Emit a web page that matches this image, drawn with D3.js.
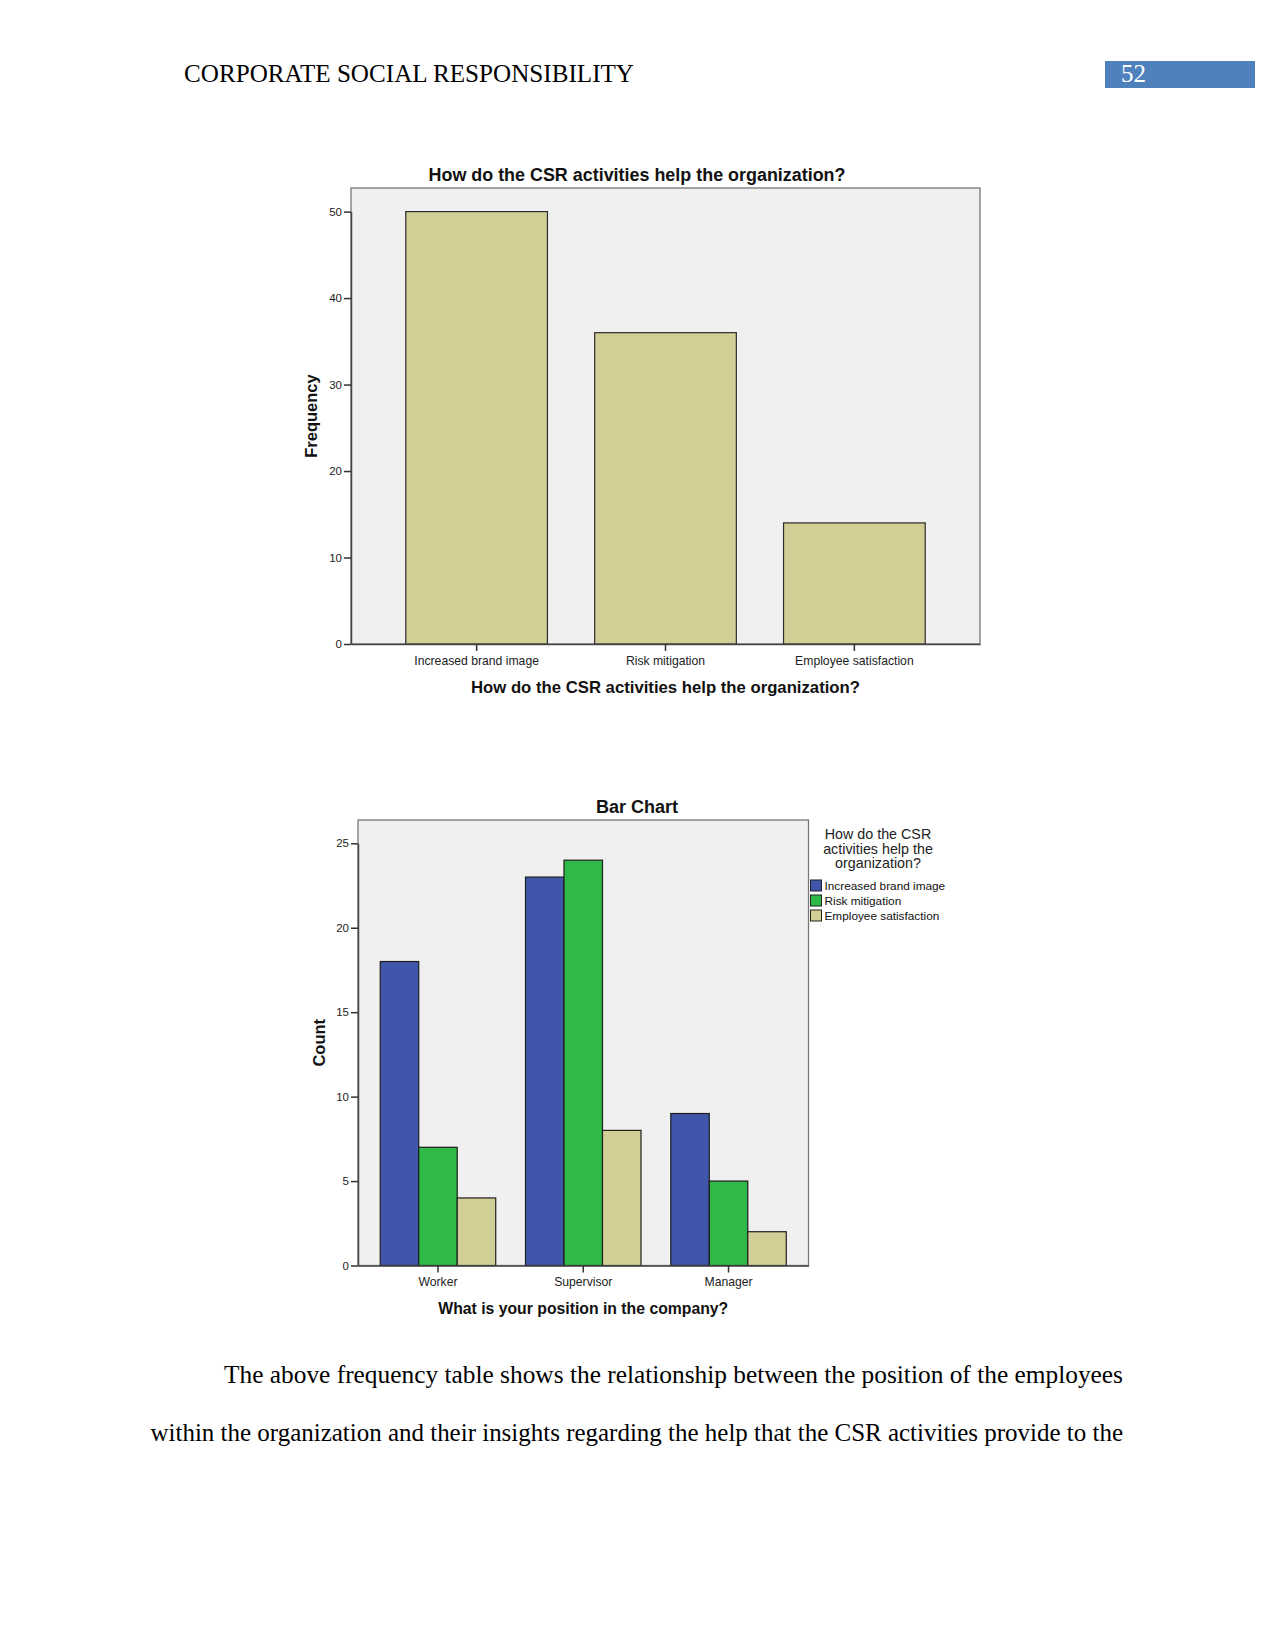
<!DOCTYPE html>
<html><head><meta charset="utf-8">
<script src="https://cdn.jsdelivr.net/npm/d3@7"></script>
<style>body{margin:0;background:#fff}svg{display:block}</style>
</head><body>
<svg id="page" width="1275" height="1651"></svg>
<script>
// ---- data ----
const helpCategories = ["Increased brand image", "Risk mitigation", "Employee satisfaction"];
const helpFrequency = [50, 36, 14];
const freqTicks = [0, 10, 20, 30, 40, 50];

const positions = ["Worker", "Supervisor", "Manager"];
const seriesBrand = [18, 23, 9];
const seriesRisk = [7, 24, 5];
const seriesEmployee = [4, 8, 2];
const countTicks = [0, 5, 10, 15, 20, 25];
const seriesColors = ["#3f56aa", "#2fb949", "#d2cf96"];

const headerText = "CORPORATE SOCIAL RESPONSIBILITY";
const pageNumber = "52";
const paraLines = [
  "The above frequency table shows the relationship between the position of the employees",
  "within the organization and their insights regarding the help that the CSR activities provide to the"
];

const svg = d3.select("#page");
const sans = "'Liberation Sans', Arial, sans-serif";
const serif = "'Liberation Serif', 'Times New Roman', serif";

// ---- header ----
svg.append("text").attr("x", 184).attr("y", 82).attr("font-family", serif).attr("font-size", 25)
  .attr("textLength", 450).attr("lengthAdjust", "spacingAndGlyphs").attr("fill", "#000").text(headerText);
svg.append("rect").attr("x", 1105).attr("y", 61).attr("width", 150).attr("height", 27).attr("fill", "#4f81bd");
svg.append("text").attr("x", 1121).attr("y", 82).attr("font-family", serif).attr("font-size", 25)
  .attr("fill", "#fff").text(pageNumber);

// ---- chart 1 ----
(function(){
  const L = 351, R = 980, T = 188, B = 644;
  const x = d3.scaleBand().domain(helpCategories).range([L, R]).paddingInner(0.25).paddingOuter(0.29);
  const y = d3.scaleLinear().domain([0, 50]).range([B, 211.6]);
  const g = svg.append("g");
  g.append("rect").attr("x", L).attr("y", T).attr("width", R - L).attr("height", B - T)
    .attr("fill", "#f0f0f0").attr("stroke", "#777").attr("stroke-width", 1.3);
  g.selectAll("rect.bar").data(helpFrequency).join("rect").attr("class", "bar")
    .attr("x", (d, i) => x(helpCategories[i])).attr("width", x.bandwidth())
    .attr("y", d => y(d)).attr("height", d => B - y(d))
    .attr("fill", "#d2cf96").attr("stroke", "#2a2a2a").attr("stroke-width", 1.2);
  const ya = g.append("g").attr("transform", `translate(${L},0)`)
    .call(d3.axisLeft(y).tickValues(freqTicks).tickSize(7).tickSizeOuter(0).tickPadding(2));
  ya.select(".domain").attr("stroke", "#444").attr("stroke-width", 1.5);
  ya.selectAll(".tick line").attr("stroke", "#333").attr("stroke-width", 1.5);
  ya.selectAll("text").attr("font-family", sans).attr("font-size", 11.5).attr("fill", "#222");
  const xa = g.append("g").attr("transform", `translate(0,${B})`)
    .call(d3.axisBottom(x).tickSize(7).tickSizeOuter(0).tickPadding(5));
  xa.select(".domain").attr("stroke", "#444").attr("stroke-width", 1.5);
  xa.selectAll(".tick line").attr("stroke", "#333").attr("stroke-width", 1.5);
  xa.selectAll("text").attr("font-family", sans).attr("font-size", 12.2).attr("fill", "#222");
  g.append("text").attr("x", 637).attr("y", 180.5).attr("text-anchor", "middle").attr("font-family", sans)
    .attr("font-weight", "bold").attr("font-size", 18).attr("fill", "#111")
    .attr("textLength", 417).attr("lengthAdjust", "spacingAndGlyphs")
    .text("How do the CSR activities help the organization?");
  g.append("text").attr("x", (L + R) / 2).attr("y", 692.5).attr("text-anchor", "middle").attr("font-family", sans)
    .attr("font-weight", "bold").attr("font-size", 16.5).attr("fill", "#111")
    .attr("textLength", 389).attr("lengthAdjust", "spacingAndGlyphs")
    .text("How do the CSR activities help the organization?");
  g.append("text").attr("transform", `translate(316.5,${(T + B) / 2}) rotate(-90)`).attr("text-anchor", "middle")
    .attr("font-family", sans).attr("font-weight", "bold").attr("font-size", 16.5).attr("fill", "#111").text("Frequency");
})();

// ---- chart 2 ----
(function(){
  const L = 358, R = 808.5, T = 820, B = 1265.5;
  const seriesNames = helpCategories;
  const allSeries = [seriesBrand, seriesRisk, seriesEmployee];
  const x0 = d3.scaleBand().domain(positions).range([L, R]).paddingInner(0.205).paddingOuter(0.153);
  const x1 = d3.scaleBand().domain(seriesNames).range([0, x0.bandwidth()]);
  const y = d3.scaleLinear().domain([0, 25]).range([B, 843.3]);
  const g = svg.append("g");
  g.append("rect").attr("x", L).attr("y", T).attr("width", R - L).attr("height", B - T)
    .attr("fill", "#f0f0f0").attr("stroke", "#777").attr("stroke-width", 1.3);
  const groups = g.selectAll("g.grp").data(positions).join("g").attr("class", "grp")
    .attr("transform", p => `translate(${x0(p)},0)`);
  groups.selectAll("rect").data((p, pi) => allSeries.map((s, si) => ({ s: seriesNames[si], si, v: s[pi] })))
    .join("rect").attr("x", d => x1(d.s)).attr("width", x1.bandwidth())
    .attr("y", d => y(d.v)).attr("height", d => B - y(d.v))
    .attr("fill", d => seriesColors[d.si]).attr("stroke", "#1e1e1e").attr("stroke-width", 1.2);
  const ya = g.append("g").attr("transform", `translate(${L},0)`)
    .call(d3.axisLeft(y).tickValues(countTicks).tickSize(7).tickSizeOuter(0).tickPadding(2));
  ya.select(".domain").attr("stroke", "#444").attr("stroke-width", 1.5);
  ya.selectAll(".tick line").attr("stroke", "#333").attr("stroke-width", 1.5);
  ya.selectAll("text").attr("font-family", sans).attr("font-size", 11.5).attr("fill", "#222");
  const xa = g.append("g").attr("transform", `translate(0,${B})`)
    .call(d3.axisBottom(x0).tickSize(7).tickSizeOuter(0).tickPadding(5));
  xa.select(".domain").attr("stroke", "#444").attr("stroke-width", 1.5);
  xa.selectAll(".tick line").attr("stroke", "#333").attr("stroke-width", 1.5);
  xa.selectAll("text").attr("font-family", sans).attr("font-size", 12.2).attr("fill", "#222");
  g.append("text").attr("x", 637).attr("y", 813).attr("text-anchor", "middle").attr("font-family", sans)
    .attr("font-weight", "bold").attr("font-size", 18).attr("fill", "#111").text("Bar Chart");
  g.append("text").attr("x", (L + R) / 2).attr("y", 1313.5).attr("text-anchor", "middle").attr("font-family", sans)
    .attr("font-weight", "bold").attr("font-size", 16.5).attr("fill", "#111")
    .attr("textLength", 290).attr("lengthAdjust", "spacingAndGlyphs")
    .text("What is your position in the company?");
  g.append("text").attr("transform", `translate(324.5,${(T + B) / 2}) rotate(-90)`).attr("text-anchor", "middle")
    .attr("font-family", sans).attr("font-weight", "bold").attr("font-size", 16.5).attr("fill", "#111").text("Count");
  // legend
  const legTitle = ["How do the CSR", "activities help the", "organization?"];
  g.selectAll("text.lt").data(legTitle).join("text").attr("class", "lt")
    .attr("x", 878).attr("y", (d, i) => 839 + i * 14.5).attr("text-anchor", "middle")
    .attr("font-family", sans).attr("font-size", 14.3).attr("fill", "#222").text(d => d);
  const li = g.selectAll("g.li").data(seriesNames).join("g").attr("class", "li")
    .attr("transform", (d, i) => `translate(810.5,${880 + i * 15})`);
  li.append("rect").attr("width", 11).attr("height", 11).attr("fill", (d, i) => seriesColors[i])
    .attr("stroke", "#222").attr("stroke-width", 1);
  li.append("text").attr("x", 14).attr("y", 9.8).attr("font-family", sans).attr("font-size", 11.8)
    .attr("fill", "#111").text(d => d);
})();

// ---- paragraph ----
const paraX = [224, 150.5], paraY = [1383, 1441];
svg.selectAll("text.para").data(paraLines).join("text").attr("class", "para")
  .attr("x", (d, i) => paraX[i]).attr("y", (d, i) => paraY[i])
  .attr("textLength", (d, i) => 1123 - paraX[i]).attr("lengthAdjust", "spacingAndGlyphs")
  .attr("font-family", serif).attr("font-size", 25).attr("fill", "#000").text(d => d);
</script>
</body></html>
